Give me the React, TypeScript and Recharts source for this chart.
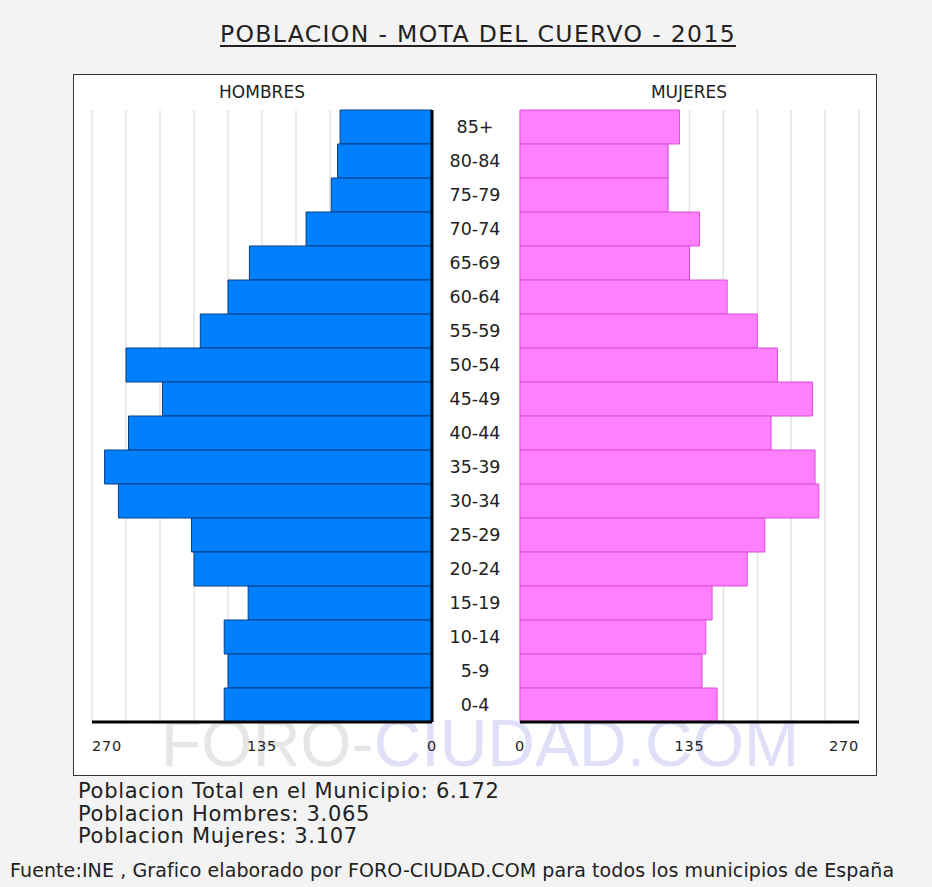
import React from 'react';
import { BarChart, Bar, XAxis, YAxis, CartesianGrid } from 'recharts';

const ages = ['85+', '80-84', '75-79', '70-74', '65-69', '60-64', '55-59', '50-54', '45-49', '40-44', '35-39', '30-34', '25-29', '20-24', '15-19', '10-14', '5-9', '0-4'];
const hombres = [73, 75, 80, 100, 145, 162, 184, 243, 214, 241, 260, 249, 191, 189, 146, 165, 162, 165];
const mujeres = [127, 118, 118, 143, 135, 165, 189, 205, 233, 200, 235, 238, 195, 181, 153, 148, 145, 157];
const gridTicks = [0, 27, 54, 81, 108, 135, 162, 189, 216, 243, 270];
const labelTicks = [0, 135, 270];

const title = 'POBLACION - MOTA DEL CUERVO - 2015';
const statLines = [
  'Poblacion Total en el Municipio: 6.172',
  'Poblacion Hombres: 3.065',
  'Poblacion Mujeres: 3.107',
];
const footer = 'Fuente:INE , Grafico elaborado por FORO-CIUDAD.COM para todos los municipios de España';

const data = ages.map((age, i) => ({ age, h: hombres[i], m: mujeres[i] }));

const FONT = '"DejaVu Sans", Verdana, sans-serif';
const TEXT = '#222';

const AgeTick = (props: any) => {
  const { x, y, payload } = props;
  return (
    <text x={x + 43} y={y} dy="0.36em" textAnchor="middle" fontFamily={FONT} fontSize={17.5} fill={TEXT}>
      {payload.value}
    </text>
  );
};

const makeValueTick = (side: 'left' | 'right') => (props: any) => {
  const { x, y, payload } = props;
  const v = payload.value;
  if (!labelTicks.includes(v)) return <g />;
  let anchor: 'start' | 'middle' | 'end' = 'middle';
  if (v === 270) anchor = side === 'left' ? 'start' : 'end';
  return (
    <text x={x} y={y} dy={29} textAnchor={anchor} fontFamily={FONT} fontSize={14.5} letterSpacing={0.8} fill={TEXT}>
      {v}
    </text>
  );
};

const LeftTick = makeValueTick('left');
const RightTick = makeValueTick('right');

export default function App() {
  return (
    <div style={{ position: 'relative', width: 932, height: 887, background: '#f3f3f3', overflow: 'hidden', fontFamily: FONT, color: TEXT }}>
      <style>{'body{margin:0;}'}</style>
      <div
        style={{
          position: 'absolute', left: 478, top: 22, transform: 'translateX(-50%)', whiteSpace: 'nowrap',
          fontSize: 23.5, lineHeight: '24px', letterSpacing: 1.35, textDecoration: 'underline',
          textDecorationThickness: 2, textUnderlineOffset: 3,
        }}
      >
        {title}
      </div>
      <div style={{ position: 'absolute', left: 73, top: 74, width: 802, height: 700, background: '#fff', border: '1.5px solid #333' }} />
      <div style={{ position: 'absolute', left: 262, top: 83, transform: 'translateX(-50%)', fontSize: 17, lineHeight: '18px', whiteSpace: 'nowrap' }}>HOMBRES</div>
      <div style={{ position: 'absolute', left: 689, top: 83, transform: 'translateX(-50%)', fontSize: 17, lineHeight: '18px', whiteSpace: 'nowrap' }}>MUJERES</div>
      <div
        style={{
          position: 'absolute', left: 480, top: 708, transform: 'translateX(-50%)', whiteSpace: 'nowrap',
          fontFamily: '"Liberation Sans", Arial, sans-serif', fontSize: 66, lineHeight: '70px',
        }}
      >
        <span style={{ color: '#e6e6e6' }}>FORO-</span>
        <span style={{ color: '#e0dff8' }}>CIUDAD.COM</span>
      </div>
      <div style={{ position: 'absolute', left: 0, top: 0 }}>
        <BarChart
          width={520}
          height={762}
          data={data}
          layout="vertical"
          barCategoryGap={0}
          margin={{ top: 110, right: 0, bottom: 0, left: 92 }}
        >
          <CartesianGrid vertical horizontal={false} stroke="#e3e3e3" strokeWidth={1.5} />
          <XAxis
            type="number"
            domain={[0, 270]}
            ticks={gridTicks}
            reversed
            height={40}
            tickLine={false}
            tickSize={0}
            tickMargin={0}
            axisLine={{ stroke: '#000', strokeWidth: 3 }}
            tick={LeftTick}
            interval={0}
          />
          <YAxis
            type="category"
            dataKey="age"
            orientation="right"
            width={88}
            tickLine={false}
            tickSize={0}
            tickMargin={0}
            axisLine={{ stroke: '#000', strokeWidth: 3 }}
            tick={AgeTick}
            interval={0}
          />
          <Bar dataKey="h" fill="#0080ff" stroke="#0b3f7e" strokeWidth={1} isAnimationActive={false} />
        </BarChart>
      </div>
      <div style={{ position: 'absolute', left: 0, top: 0 }}>
        <BarChart
          width={860}
          height={762}
          data={data}
          layout="vertical"
          barCategoryGap={0}
          margin={{ top: 110, right: 1, bottom: 0, left: 520 }}
        >
          <CartesianGrid vertical horizontal={false} stroke="#e3e3e3" strokeWidth={1.5} />
          <XAxis
            type="number"
            domain={[0, 270]}
            ticks={gridTicks}
            height={40}
            tickLine={false}
            tickSize={0}
            tickMargin={0}
            axisLine={{ stroke: '#000', strokeWidth: 3 }}
            tick={RightTick}
            interval={0}
          />
          <YAxis
            type="category"
            dataKey="age"
            width={0}
            tick={false}
            tickLine={false}
            axisLine={{ stroke: '#000', strokeWidth: 3 }}
          />
          <Bar dataKey="m" fill="#ff80ff" stroke="#dc4cdc" strokeWidth={1} isAnimationActive={false} />
        </BarChart>
      </div>
      <div style={{ position: 'absolute', left: 78, top: 780, fontSize: 21, lineHeight: '22.5px', letterSpacing: 0.7, whiteSpace: 'nowrap' }}>
        {statLines.map((s) => (
          <div key={s}>{s}</div>
        ))}
      </div>
      <div style={{ position: 'absolute', left: 10, top: 860, fontSize: 19, lineHeight: '20px', letterSpacing: 0.1, whiteSpace: 'nowrap' }}>{footer}</div>
    </div>
  );
}
